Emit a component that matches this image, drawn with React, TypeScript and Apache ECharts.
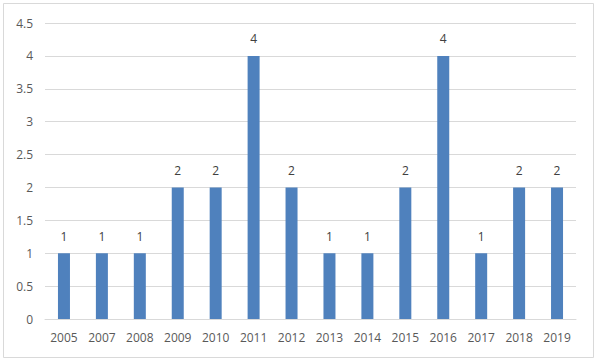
import React, { useEffect, useRef } from "react";
import * as echarts from "echarts";

const categories = ["2005", "2007", "2008", "2009", "2010", "2011", "2012", "2013", "2014", "2015", "2016", "2017", "2018", "2019"];
const values = [1, 1, 1, 2, 2, 4, 2, 1, 1, 2, 4, 1, 2, 2];
const yMin = 0;
const yMax = 4.5;
const yStep = 0.5;

export default function App() {
  const ref = useRef<HTMLDivElement>(null);
  useEffect(() => {
    if (!ref.current) return;
    const chart = echarts.init(ref.current, null, { renderer: "svg" });
    const font = "'Open Sans', 'Liberation Sans', sans-serif";
    chart.setOption({
      animation: false,
      backgroundColor: "#ffffff",
      textStyle: { fontFamily: font },
      graphic: [
        {
          type: "rect",
          shape: { x: 3.5, y: 3.5, width: 590, height: 354 },
          style: { fill: "none", stroke: "#D9D9D9", lineWidth: 1 },
          silent: true,
        },
      ],
      grid: { left: 45, right: 21, top: 23, bottom: 44, containLabel: false },
      xAxis: {
        type: "category",
        data: categories,
        axisLine: { show: true, lineStyle: { color: "#D9D9D9", width: 1 } },
        axisTick: { show: false },
        axisLabel: { color: "#595959", fontSize: 12, margin: 12, fontFamily: font, interval: 0 },
      },
      yAxis: {
        type: "value",
        min: yMin,
        max: yMax,
        interval: yStep,
        axisLine: { show: false },
        axisTick: { show: false },
        splitLine: { lineStyle: { color: "#D9D9D9", width: 1 } },
        axisLabel: { color: "#595959", fontSize: 12, margin: 12, fontFamily: font },
      },
      series: [
        {
          type: "bar",
          data: values,
          barWidth: 12,
          itemStyle: { color: "#4F81BD" },
          label: {
            show: true,
            position: "top",
            distance: 11,
            color: "#404040",
            fontSize: 12,
            fontFamily: font,
          },
        },
      ],
    });
    return () => chart.dispose();
  }, []);
  return (
    <div
      ref={ref}
      style={{ position: "absolute", left: 0, top: 0, width: 597, height: 363 }}
    />
  );
}
